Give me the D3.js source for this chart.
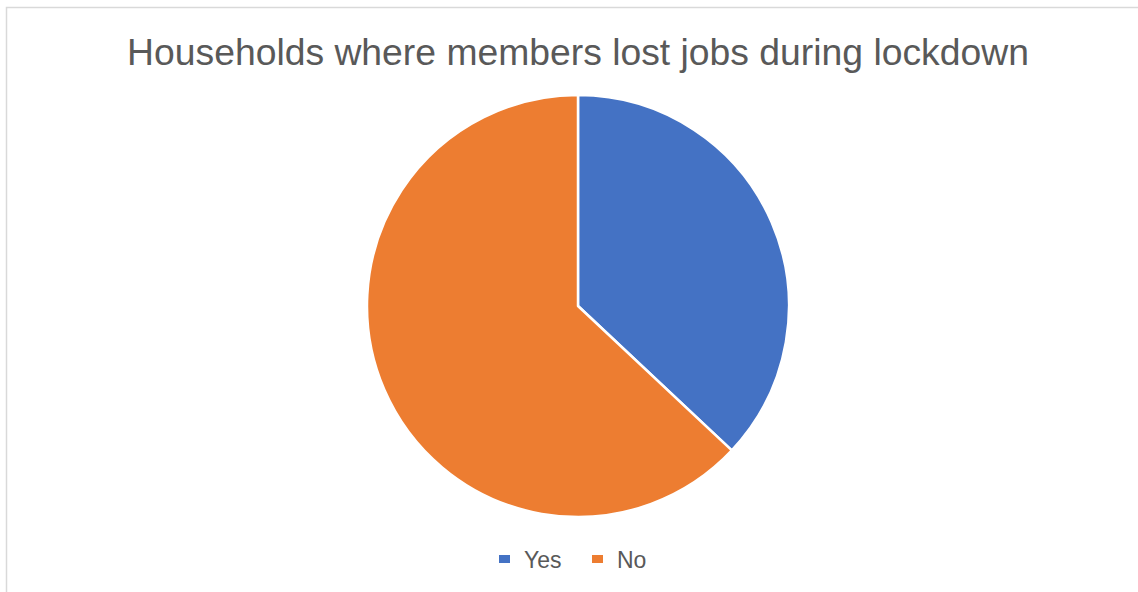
<!DOCTYPE html>
<html>
<head>
<meta charset="utf-8">
<script src="https://cdn.jsdelivr.net/npm/d3@7"></script>
<style>
  html, body { margin: 0; padding: 0; background: #fff; }
  svg { display: block; }
</style>
</head>
<body>
<svg id="chart" width="1138" height="592"></svg>
<script>
// Share of households where members lost jobs during lockdown (%)
const categories = ["Yes", "No"];
const values = [37, 63];
const colors = ["#4472C4", "#ED7D31"];
const title = "Households where members lost jobs during lockdown";

const svg = d3.select("#chart");
const W = 1138, H = 592;
const font = "'Liberation Sans', Arial, sans-serif";

// chart area frame (runs off the right and bottom edges)
svg.append("rect")
  .attr("x", 6.5).attr("y", 7.5)
  .attr("width", W + 20).attr("height", H + 20)
  .attr("fill", "#fff")
  .attr("stroke", "#d9d9d9")
  .attr("stroke-width", 1.5);

// title
svg.append("text")
  .attr("x", 578).attr("y", 65)
  .attr("text-anchor", "middle")
  .attr("font-family", font)
  .attr("font-size", 37.3)
  .attr("fill", "#595959")
  .text(title);

// pie
const cx = 578, cy = 306, r = 211;
const color = d3.scaleOrdinal().domain(categories).range(colors);
const pie = d3.pie().sort(null).value(d => d.value);
const arc = d3.arc().innerRadius(0).outerRadius(r);
const data = categories.map((c, i) => ({ name: c, value: values[i] }));

svg.append("g")
  .attr("transform", `translate(${cx},${cy})`)
  .selectAll("path")
  .data(pie(data))
  .join("path")
  .attr("d", arc)
  .attr("fill", d => color(d.data.name))
  .attr("stroke", "#fff")
  .attr("stroke-width", 2.5)
  .attr("stroke-linejoin", "round");

// legend
const legendItems = [
  { name: categories[0], x: 499 },
  { name: categories[1], x: 592 }
];
const lg = svg.append("g");
const item = lg.selectAll("g").data(legendItems).join("g")
  .attr("transform", d => `translate(${d.x},555)`);
item.append("rect")
  .attr("width", 11).attr("height", 8)
  .attr("fill", d => color(d.name));
item.append("text")
  .attr("x", 25).attr("y", 13)
  .attr("font-family", font)
  .attr("font-size", 23)
  .attr("fill", "#595959")
  .text(d => d.name);
</script>
</body>
</html>
